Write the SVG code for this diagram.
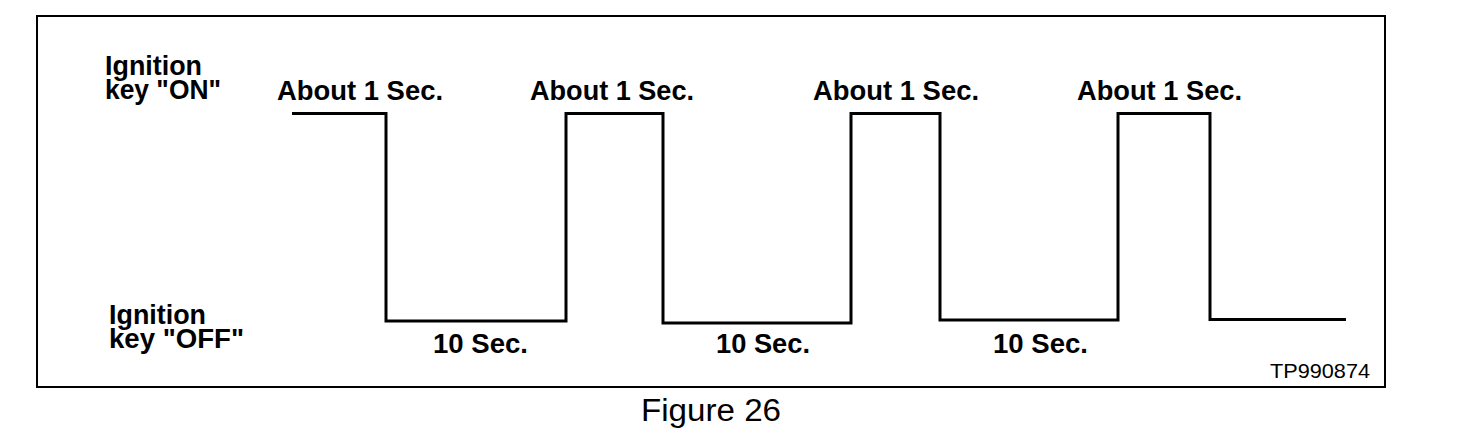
<svg xmlns="http://www.w3.org/2000/svg" width="1472" height="442" viewBox="0 0 1472 442">
<style>
.b{font-family:"Liberation Sans",Arial,Helvetica,sans-serif;font-weight:bold;font-size:27px;fill:#000}
.r{font-family:"Liberation Sans",Arial,Helvetica,sans-serif;font-size:21px;fill:#000}
.fig{font-family:"Liberation Sans",Arial,Helvetica,sans-serif;font-size:31px;fill:#000}
.frame{fill:none;stroke:#000;stroke-width:2}
.wave{fill:none;stroke:#000;stroke-width:3;stroke-linejoin:miter}
</style>
<rect width="1472" height="442" fill="#fff"/>
<g id="frame"><rect class="frame" x="37" y="16" width="1348" height="371"/></g>
<g id="label-on">
<text class="b" x="105" y="75" textLength="97" lengthAdjust="spacingAndGlyphs">Ignition</text>
<text class="b" x="105" y="99" textLength="116" lengthAdjust="spacingAndGlyphs">key "ON"</text>
</g>
<g id="label-off">
<text class="b" x="109" y="324" textLength="97" lengthAdjust="spacingAndGlyphs">Ignition</text>
<text class="b" x="109" y="348" textLength="135" lengthAdjust="spacingAndGlyphs">key "OFF"</text>
</g>
<g id="connectors">
<path class="wave" d="M292,113.5 H386 V321 H566 V113.5 H663 V323 H851 V113.5 H940 V320 H1118 V113.5 H1210 V319.5 H1346"/>
</g>
<g id="on-times">
<text class="b" x="277" y="100" textLength="166" lengthAdjust="spacingAndGlyphs">About 1 Sec.</text>
<text class="b" x="530" y="100" textLength="164" lengthAdjust="spacingAndGlyphs">About 1 Sec.</text>
<text class="b" x="813" y="100" textLength="166" lengthAdjust="spacingAndGlyphs">About 1 Sec.</text>
<text class="b" x="1077" y="100" textLength="165" lengthAdjust="spacingAndGlyphs">About 1 Sec.</text>
</g>
<g id="off-times">
<text class="b" x="433" y="353" textLength="95" lengthAdjust="spacingAndGlyphs">10 Sec.</text>
<text class="b" x="716" y="353" textLength="94" lengthAdjust="spacingAndGlyphs">10 Sec.</text>
<text class="b" x="993" y="353" textLength="95" lengthAdjust="spacingAndGlyphs">10 Sec.</text>
</g>
<g id="code"><text class="r" x="1270" y="378" textLength="100" lengthAdjust="spacingAndGlyphs">TP990874</text></g>
<g id="caption"><text class="fig" x="641" y="421" textLength="140" lengthAdjust="spacingAndGlyphs">Figure 26</text></g>
</svg>
